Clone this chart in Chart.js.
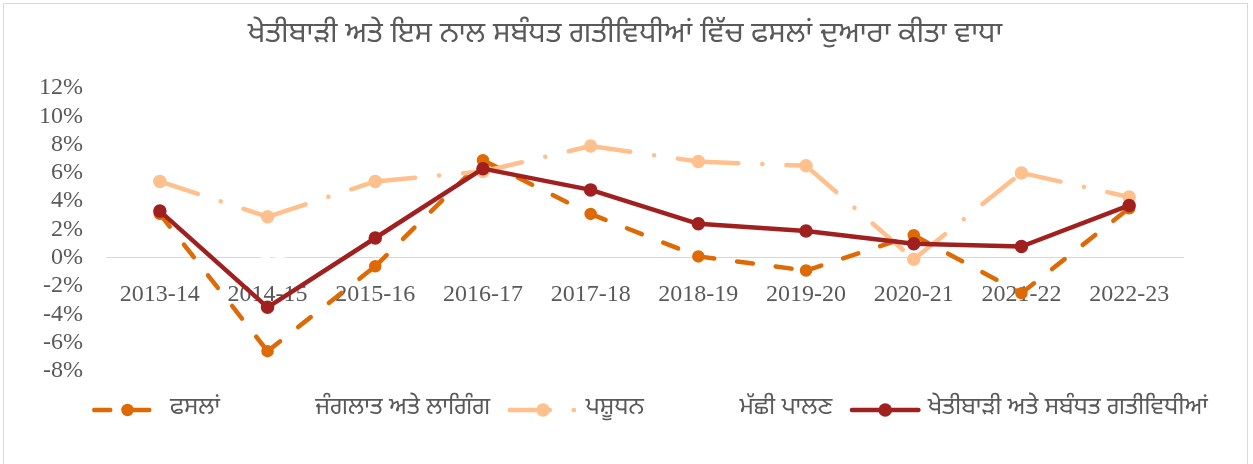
<!DOCTYPE html>
<html><head><meta charset="utf-8">
<script src="https://cdn.jsdelivr.net/npm/chart.js@4.4.0/dist/chart.umd.min.js"></script>
<style>html,body{margin:0;padding:0;background:#fff;overflow:hidden}#wrap{position:relative;width:1253px;height:464px}</style>
</head><body><div id="wrap"><canvas id="c" width="1253" height="464"></canvas></div>
<script>
const categories = ['2013-14','2014-15','2015-16','2016-17','2017-18','2018-19','2019-20','2020-21','2021-22','2022-23'];
const crops       = [3.1, -6.6, -0.6, 6.9, 3.1, 0.1, -0.9, 1.6, -2.5, 3.5];
const forestry    = [3.0, -0.1, 1.0, 3.0, 3.2, 0.2, 1.0, 1.2, 1.0, 2.0];
const livestock   = [5.4, 2.9, 5.4, 6.1, 7.9, 6.8, 6.5, -0.1, 6.0, 4.3];
const fishing     = [5.6, 0.1, 5.3, 6.0, 7.0, 5.0, 5.5, 4.0, 5.0, 4.5];
const agriculture = [3.3, -3.5, 1.4, 6.3, 4.8, 2.4, 1.9, 1.0, 0.8, 3.7];
const yMin = -8, yMax = 12, yStep = 2;
const seriesNames = ['ਫਸਲਾਂ', 'ਜੰਗਲਾਤ ਅਤੇ ਲਾਗਿੰਗ', 'ਪਸ਼ੂਧਨ', 'ਮੱਛੀ ਪਾਲਣ', 'ਖੇਤੀਬਾੜੀ ਅਤੇ ਸਬੰਧਤ ਗਤੀਵਿਧੀਆਂ'];
const titleText = 'ਖੇਤੀਬਾੜੀ ਅਤੇ ਇਸ ਨਾਲ ਸਬੰਧਤ ਗਤੀਵਿਧੀਆਂ ਵਿੱਚ ਫਸਲਾਂ ਦੁਆਰਾ ਕੀਤਾ ਵਾਧਾ';

const C_CROP = '#DE6A05', C_LIVE = '#FFC08E', C_AGRI = '#A02020', C_WHITE = '#FFFFFF';
const GUR = "'Noto Sans Gurmukhi','Lohit Gurmukhi','Raavi','Noto Sans',sans-serif";
const SERIF = "'Liberation Serif','Times New Roman',serif";
const restart = ctx => (ctx.p0DataIndex % 2 ? 0.0001 : 0);

function ds(label, data, color, dash, width, radius, order) {
  return {
    label, data, borderColor: color, backgroundColor: color,
    pointBackgroundColor: color, pointBorderColor: color,
    borderWidth: width, borderDash: dash, borderCapStyle: 'round', borderJoinStyle: 'round',
    pointRadius: radius, pointHoverRadius: radius, pointBorderWidth: 1.5,
    tension: 0, order, clip: false,
    segment: { borderDashOffset: restart }
  };
}

const datasets = [
  ds(seriesNames[0], crops, C_CROP, [16, 23], 4.5, 5.5, 4),
  ds(seriesNames[1], forestry, C_WHITE, [], 1.5, 2, 9),
  ds(seriesNames[2], livestock, C_LIVE, [40, 24, 0.1, 24], 4.5, 6, 3),
  ds(seriesNames[3], fishing, C_WHITE, [], 1.5, 2, 8),
  ds(seriesNames[4], agriculture, C_AGRI, [], 4.5, 6, 1)
];

const deco = {
  id: 'deco',
  beforeDraw(chart) {
    const ctx = chart.ctx;
    ctx.save();
    ctx.fillStyle = '#fff';
    ctx.fillRect(0, 0, chart.width, chart.height);
    ctx.strokeStyle = '#d9d9d9';
    ctx.lineWidth = 1;
    ctx.strokeRect(3.5, 3.5, 1244, 470);
    ctx.restore();
  },
  afterDraw(chart) {
    const ctx = chart.ctx;
    ctx.save();
    ctx.fillStyle = '#595959';
    ctx.textBaseline = 'middle';
    ctx.textAlign = 'center';
    ctx.font = '20px ' + GUR;
    let tw = ctx.measureText(titleText).width;
    let ts = Math.max(12, Math.min(30, 20 * 755 / tw));
    ctx.font = ts.toFixed(2) + 'px ' + GUR;
    ctx.fillText(titleText, 625, 37);
    ctx.font = '17px ' + GUR;
    let w5 = ctx.measureText(seriesNames[4]).width;
    let ls = Math.max(10, Math.min(24, 17 * 300 / w5));
    ctx.font = ls.toFixed(2) + 'px ' + GUR;
    ctx.textAlign = 'left';
    const SW = 71, GAP = 7, Y = 410;
    const widths = seriesNames.map(n => ctx.measureText(n).width);
    const sum = widths.reduce((a, b) => a + b + SW + GAP, 0);
    const spacing = Math.max(10, (1116 - sum) / 4);
    let x = 92;
    chart.data.datasets.forEach((d, i) => {
      ctx.save();
      ctx.strokeStyle = d.borderColor;
      ctx.lineWidth = d.borderWidth;
      ctx.lineCap = 'round';
      ctx.setLineDash(d.borderDash || []);
      ctx.beginPath();
      ctx.moveTo(x + 2.25, Y);
      ctx.lineTo(x + SW - 2.25, Y);
      ctx.stroke();
      ctx.setLineDash([]);
      ctx.beginPath();
      ctx.arc(x + SW / 2, Y, d.pointRadius + 0.75, 0, Math.PI * 2);
      ctx.fillStyle = d.pointBackgroundColor;
      ctx.fill();
      ctx.restore();
      ctx.fillStyle = '#595959';
      ctx.fillText(seriesNames[i], x + SW + GAP, Y);
      x += SW + GAP + widths[i] + spacing;
    });
    ctx.restore();
  }
};

new Chart(document.getElementById('c'), {
  type: 'line',
  data: { labels: categories, datasets },
  plugins: [deco],
  options: {
    responsive: false, animation: false, devicePixelRatio: 1,
    layout: { padding: { left: 0, right: 70, top: 88, bottom: 93 } },
    plugins: { legend: { display: false }, title: { display: false }, tooltip: { enabled: false } },
    scales: {
      x: {
        type: 'category', offset: true, position: { y: 0 },
        grid: { display: false, drawTicks: false },
        border: { display: true, color: '#d9d9d9', width: 1 },
        ticks: { color: '#595959', font: { family: SERIF, size: 24 }, padding: 23, maxRotation: 0, autoSkip: false }
      },
      y: {
        min: yMin, max: yMax,
        grid: { display: false, drawTicks: false },
        border: { display: false },
        ticks: { stepSize: yStep, autoSkip: false, color: '#595959', font: { family: SERIF, size: 24 }, padding: 23,
                 callback: v => v + '%' },
        afterFit(scale) { scale.width = 106; }
      }
    }
  }
});
</script>
</body></html>
